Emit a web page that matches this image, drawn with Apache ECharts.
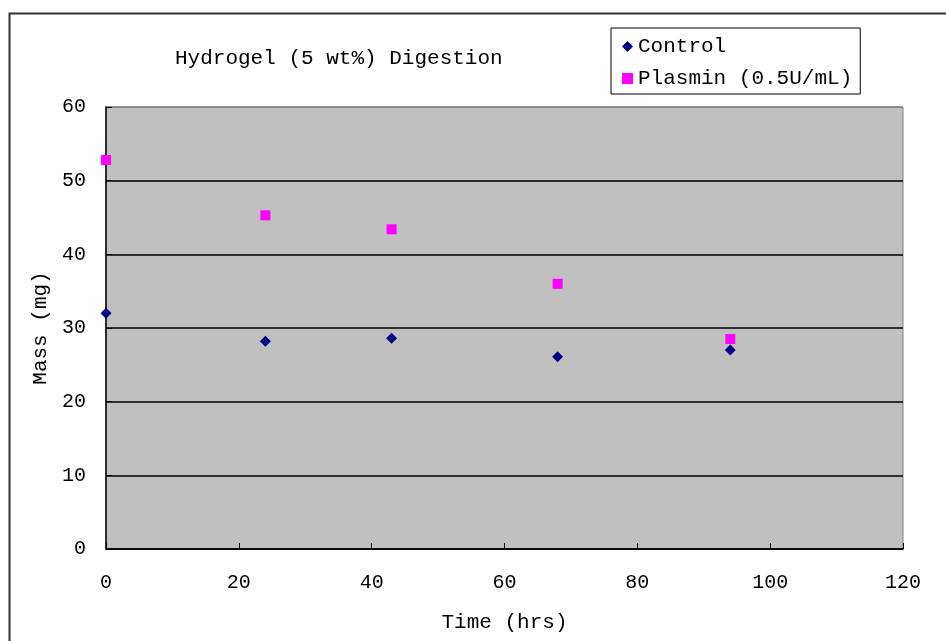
<!DOCTYPE html>
<html>
<head>
<meta charset="utf-8">
<script src="https://cdn.jsdelivr.net/npm/echarts@6/dist/echarts.min.js"></script>
<style>html,body{margin:0;padding:0;background:#fff}#c{width:946px;height:641px}</style>
</head>
<body>
<div id="c"></div>
<script>
var timeHrs = [0, 24, 43, 68, 94];
var controlMass = [32.0, 28.2, 28.6, 26.1, 27.0];
var plasminMass = [52.8, 45.3, 43.4, 36.0, 28.5];
var seriesNames = ['Control', 'Plasmin (0.5U/mL)'];
var titleText = 'Hydrogel (5 wt%) Digestion';
var xAxisName = 'Time (hrs)';
var yAxisName = 'Mass (mg)';

var FONT = '"Liberation Mono", "DejaVu Sans Mono", monospace';
function pairs(xs, ys) { return xs.map(function (x, i) { return [x, ys[i]]; }); }

var chart = echarts.init(document.getElementById('c'));
chart.setOption({
  animation: false,
  backgroundColor: '#fff',
  graphic: [{
    type: 'rect', silent: true, z: 100,
    shape: { x: 9.5, y: 13.5, width: 1200, height: 1000 },
    style: { fill: 'none', stroke: '#333', lineWidth: 2 }
  }],
  title: {
    text: titleText, left: 170, top: 43,
    textStyle: { fontFamily: FONT, fontSize: 21, fontWeight: 'normal', color: '#000' }
  },
  legend: {
    orient: 'vertical', left: 611, top: 28,
    padding: [8, 8, 5, 11],
    borderColor: '#000', borderWidth: 1, backgroundColor: '#fff',
    itemWidth: 11, itemHeight: 11, itemGap: 11,
    textStyle: { fontFamily: FONT, fontSize: 21, color: '#000', lineHeight: 20 },
    data: [{ name: seriesNames[0], icon: 'diamond' }, { name: seriesNames[1], icon: 'rect' }]
  },
  grid: {
    left: 106, right: 43, top: 107, bottom: 92,
    show: true, backgroundColor: '#c0c0c0', borderColor: '#808080', borderWidth: 1
  },
  xAxis: {
    type: 'value', min: 0, max: 120, interval: 20,
    name: xAxisName, nameLocation: 'middle', nameGap: 63,
    nameTextStyle: { fontFamily: FONT, fontSize: 21, color: '#000' },
    axisLine: { show: true, lineStyle: { color: '#000', width: 1.5 } },
    axisTick: { show: true, inside: true, length: 6, lineStyle: { color: '#000' } },
    axisLabel: { fontFamily: FONT, fontSize: 20, color: '#000', margin: 24 },
    splitLine: { show: false }
  },
  yAxis: {
    type: 'value', min: 0, max: 60, interval: 10,
    name: yAxisName, nameLocation: 'middle', nameGap: 54,
    nameTextStyle: { fontFamily: FONT, fontSize: 21, color: '#000' },
    axisLine: { show: true, lineStyle: { color: '#000', width: 1.5 } },
    axisTick: { show: true, inside: true, length: 6, lineStyle: { color: '#000' } },
    axisLabel: { fontFamily: FONT, fontSize: 20, color: '#000', margin: 20 },
    splitLine: { show: true, lineStyle: { color: ['#000', '#000', '#000', '#000', '#000', '#000', '#808080'], width: 1.5 } }
  },
  series: [
    {
      name: seriesNames[0], type: 'scatter', symbol: 'diamond', symbolSize: 11,
      itemStyle: { color: '#000080', opacity: 1 }, clip: false, z: 3,
      data: pairs(timeHrs, controlMass)
    },
    {
      name: seriesNames[1], type: 'scatter', symbol: 'rect', symbolSize: 10,
      itemStyle: { color: '#ff00ff', opacity: 1 }, clip: false, z: 3,
      data: pairs(timeHrs, plasminMass)
    }
  ]
});
</script>
</body>
</html>
